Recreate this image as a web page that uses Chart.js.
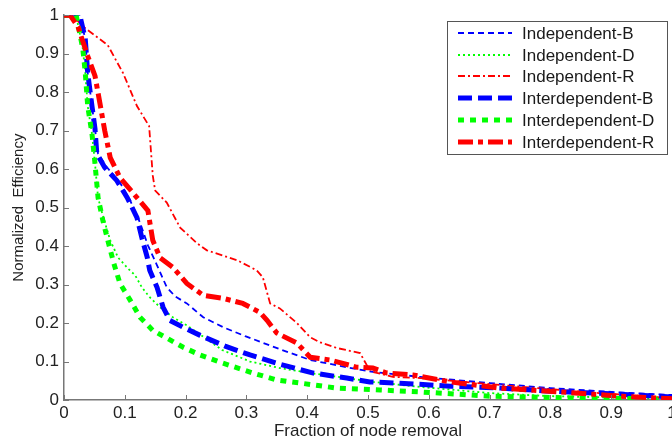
<!DOCTYPE html>
<html>
<head>
<meta charset="utf-8">
<script src="https://cdn.jsdelivr.net/npm/chart.js@4"></script>
<style>
  body { margin: 0; background: #fff; overflow: hidden; }
  #wrap { position: relative; width: 700px; height: 446px; }
</style>
</head>
<body>
<div id="wrap"><canvas id="myChart"></canvas></div>
<script>
/////////////////////////////////////////////////////////////
// data
/////////////////////////////////////////////////////////////
const seriesNames = ['Independent-B', 'Independent-D', 'Independent-R',
    'Interdependent-B', 'Interdependent-D', 'Interdependent-R']

const indepBX = [0, 0.026, 0.035, 0.039, 0.046, 0.051, 0.056, 0.071, 0.092, 0.109, 0.125, 0.138, 0.153, 0.169, 0.183, 0.202, 0.229, 0.262, 0.298, 0.355, 0.405, 0.465, 0.508, 0.586, 0.7, 0.8, 0.9, 1]
const indepBY = [1, 1, 0.938, 0.85, 0.764, 0.705, 0.64, 0.604, 0.565, 0.518, 0.461, 0.402, 0.35, 0.293, 0.269, 0.251, 0.215, 0.189, 0.166, 0.132, 0.104, 0.085, 0.073, 0.06, 0.044, 0.031, 0.021, 0.013]

const indepDX = [0, 0.02, 0.031, 0.035, 0.039, 0.046, 0.051, 0.056, 0.063, 0.076, 0.089, 0.105, 0.117, 0.128, 0.141, 0.158, 0.179, 0.202, 0.224, 0.26, 0.306, 0.355, 0.405, 0.465, 0.508, 0.586, 0.7, 0.8, 1]
const indepDY = [1, 1, 0.912, 0.85, 0.764, 0.692, 0.614, 0.526, 0.484, 0.415, 0.37, 0.342, 0.324, 0.293, 0.267, 0.241, 0.215, 0.194, 0.17, 0.13, 0.1, 0.083, 0.07, 0.057, 0.047, 0.034, 0.018, 0.01, 0.003]

const indepRX = [0, 0.013, 0.035, 0.072, 0.097, 0.12, 0.133, 0.14, 0.146, 0.15, 0.169, 0.191, 0.219, 0.235, 0.285, 0.317, 0.327, 0.339, 0.355, 0.383, 0.405, 0.421, 0.449, 0.487, 0.5, 0.508, 0.541, 0.586, 0.717, 0.88, 1]
const indepRY = [1, 1, 0.966, 0.922, 0.85, 0.764, 0.73, 0.712, 0.583, 0.544, 0.513, 0.448, 0.407, 0.389, 0.363, 0.337, 0.319, 0.251, 0.238, 0.2, 0.163, 0.15, 0.135, 0.122, 0.085, 0.073, 0.06, 0.057, 0.039, 0.018, 0.005]

const interBX = [0, 0.026, 0.035, 0.039, 0.046, 0.051, 0.054, 0.067, 0.087, 0.104, 0.12, 0.128, 0.137, 0.141, 0.153, 0.163, 0.174, 0.196, 0.224, 0.265, 0.306, 0.355, 0.41, 0.465, 0.503, 0.548, 0.635, 0.717, 0.8, 0.898, 1]
const interBY = [1, 1, 0.938, 0.85, 0.764, 0.705, 0.64, 0.604, 0.57, 0.526, 0.474, 0.422, 0.37, 0.337, 0.293, 0.241, 0.207, 0.189, 0.168, 0.14, 0.117, 0.093, 0.07, 0.057, 0.047, 0.044, 0.036, 0.031, 0.023, 0.016, 0.008]

const interDX = [0, 0.02, 0.031, 0.035, 0.039, 0.046, 0.051, 0.056, 0.064, 0.072, 0.082, 0.092, 0.109, 0.125, 0.146, 0.169, 0.196, 0.224, 0.257, 0.311, 0.35, 0.388, 0.449, 0.52, 0.586, 0.7, 0.849, 1]
const interDY = [1, 1, 0.912, 0.85, 0.764, 0.692, 0.614, 0.526, 0.466, 0.415, 0.355, 0.303, 0.259, 0.215, 0.181, 0.161, 0.137, 0.117, 0.098, 0.07, 0.052, 0.044, 0.031, 0.026, 0.021, 0.01, 0.005, 0.003]

const interRX = [0, 0.01, 0.023, 0.039, 0.051, 0.059, 0.067, 0.076, 0.092, 0.12, 0.138, 0.146, 0.158, 0.179, 0.202, 0.229, 0.262, 0.294, 0.322, 0.334, 0.35, 0.383, 0.405, 0.438, 0.482, 0.508, 0.531, 0.574, 0.635, 0.717, 0.816, 0.914, 1]
const interRY = [1, 1, 0.97, 0.894, 0.842, 0.772, 0.7, 0.63, 0.578, 0.526, 0.492, 0.415, 0.37, 0.345, 0.303, 0.272, 0.264, 0.251, 0.228, 0.207, 0.174, 0.148, 0.111, 0.104, 0.085, 0.083, 0.07, 0.065, 0.047, 0.031, 0.021, 0.01, 0.003]

const tickLabels = ['0', '0.1', '0.2', '0.3', '0.4', '0.5', '0.6', '0.7', '0.8', '0.9', '1']

/////////////////////////////////////////////////////////////
// helpers
/////////////////////////////////////////////////////////////
const pts = (xs, ys) => xs.map((x, i) => ({x: x, y: ys[i]}))
const fontFam = "'Liberation Sans', Arial, sans-serif"

function line(name, xs, ys, color, width, dash, order) {
    return {
        label: name,
        data: pts(xs, ys),
        borderColor: color,
        backgroundColor: color,
        borderWidth: width,
        borderDash: dash,
        pointRadius: 0,
        tension: 0,
        fill: false,
        order: order,
    }
}

// matlab-like ticks pointing into the axes
const innerTicks = {
    id: 'innerTicks',
    afterDraw(chart) {
        const {ctx, chartArea, scales} = chart
        ctx.save()
        ctx.strokeStyle = '#777'
        ctx.lineWidth = 1
        ctx.beginPath()
        scales.x.ticks.forEach(t => {
            const px = Math.round(scales.x.getPixelForValue(t.value)) + 0.5
            ctx.moveTo(px, chartArea.bottom)
            ctx.lineTo(px, chartArea.bottom - 5)
        })
        scales.y.ticks.forEach(t => {
            const py = Math.round(scales.y.getPixelForValue(t.value)) + 0.5
            ctx.moveTo(chartArea.left, py)
            ctx.lineTo(chartArea.left + 5, py)
        })
        ctx.stroke()
        ctx.restore()
    }
}

// boxed legend in the top right corner
const legendBox = {
    id: 'legendBox',
    afterDraw(chart) {
        const ctx = chart.ctx
        ctx.save()
        ctx.fillStyle = '#fff'
        ctx.fillRect(447.5, 21.5, 220, 133)
        ctx.strokeStyle = '#555'
        ctx.lineWidth = 1
        ctx.strokeRect(447.5, 21.5, 220, 133)
        chart.data.datasets.forEach((ds, i) => {
            const y = Math.round(33 + i * 21.7)
            ctx.beginPath()
            ctx.setLineDash(ds.borderDash)
            ctx.lineWidth = ds.borderWidth
            ctx.strokeStyle = ds.borderColor
            ctx.moveTo(458, y)
            ctx.lineTo(512, y)
            ctx.stroke()
            ctx.setLineDash([])
            ctx.fillStyle = '#1a1a1a'
            ctx.font = '17px ' + fontFam
            ctx.textBaseline = 'middle'
            ctx.fillText(ds.label, 522, y + 1)
        })
        ctx.restore()
    }
}

/////////////////////////////////////////////////////////////
// chart
/////////////////////////////////////////////////////////////
const config = {
    type: 'line',
    data: {
        datasets: [
            line(seriesNames[0], indepBX, indepBY, '#0000ff', 1.8, [6, 4], 6),
            line(seriesNames[1], indepDX, indepDY, '#00ff00', 1.8, [2, 3], 5),
            line(seriesNames[2], indepRX, indepRY, '#ff0000', 1.8, [7, 3, 2, 3], 4),
            line(seriesNames[3], interBX, interBY, '#0000ff', 5, [14, 6], 3),
            line(seriesNames[4], interDX, interDY, '#00ff00', 5, [6, 6], 2),
            line(seriesNames[5], interRX, interRY, '#ff0000', 5, [15, 5, 5, 5], 1),
        ]
    },
    plugins: [innerTicks, legendBox],
    options: {
        responsive: true,
        maintainAspectRatio: false,
        animation: false,
        layout: {padding: {top: 14, right: 28, left: 0, bottom: 0}},
        plugins: {
            legend: {display: false},
            tooltip: {enabled: false},
        },
        scales: {
            x: {
                type: 'linear',
                min: 0,
                max: 1,
                afterFit(scale) { scale.height = 46 },
                grid: {display: false, drawTicks: false},
                border: {display: true, color: '#777', width: 1.5},
                ticks: {
                    stepSize: 0.1,
                    padding: 3,
                    color: '#222',
                    font: {size: 17, family: fontFam},
                    maxRotation: 0,
                    callback: (v, i) => tickLabels[i],
                },
                title: {
                    display: true,
                    text: 'Fraction of node removal',
                    color: '#222',
                    font: {size: 17, family: fontFam},
                    padding: {top: 0, bottom: 4},
                },
            },
            y: {
                min: 0,
                max: 1,
                afterFit(scale) { scale.width = 64 },
                grid: {display: false, drawTicks: false},
                border: {display: true, color: '#777', width: 1.5},
                ticks: {
                    stepSize: 0.1,
                    padding: 5,
                    color: '#222',
                    font: {size: 17, family: fontFam},
                    callback: (v, i) => tickLabels[i],
                },
                title: {
                    display: true,
                    text: 'Normalized  Efficiency',
                    color: '#222',
                    font: {size: 15, family: fontFam},
                    padding: {top: 10, bottom: 0},
                },
            },
        },
    },
}

const myChart = new Chart(document.getElementById('myChart'), config)
</script>
</body>
</html>
